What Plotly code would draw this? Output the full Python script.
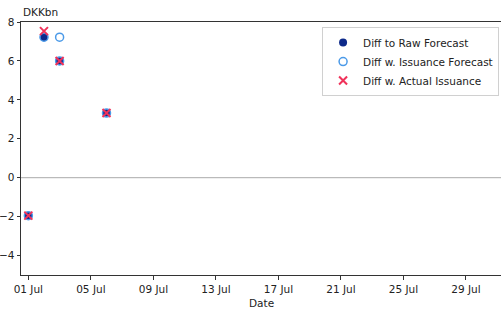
import plotly.graph_objects as go

raw_dates = ["2024-07-01", "2024-07-02", "2024-07-03", "2024-07-06"]
raw_vals = [-1.95, 7.22, 6.0, 3.32]

fc_dates = ["2024-07-01", "2024-07-02", "2024-07-03", "2024-07-03", "2024-07-06"]
fc_vals = [-1.95, 7.22, 7.22, 6.0, 3.32]

act_dates = ["2024-07-01", "2024-07-02", "2024-07-03", "2024-07-06"]
act_vals = [-1.95, 7.53, 6.0, 3.32]

tick_vals = ["2024-07-01", "2024-07-05", "2024-07-09", "2024-07-13", "2024-07-17",
             "2024-07-21", "2024-07-25", "2024-07-29"]
tick_text = ["01 Jul", "05 Jul", "09 Jul", "13 Jul", "17 Jul", "21 Jul", "25 Jul", "29 Jul"]

FONT = "DejaVu Sans"
FS = 10.5

fig = go.Figure()
fig.add_trace(go.Scatter(x=raw_dates, y=raw_vals, mode="markers", name="Diff to Raw Forecast",
                         marker=dict(symbol="circle", size=8, color="#0d2a8a",
                                     line=dict(width=0))))
fig.add_trace(go.Scatter(x=fc_dates, y=fc_vals, mode="markers", name="Diff w. Issuance Forecast",
                         marker=dict(symbol="circle-open", size=8, color="#4b9ae8",
                                     line=dict(width=1.5, color="#4b9ae8"))))
fig.add_trace(go.Scatter(x=act_dates, y=act_vals, mode="markers", name="Diff w. Actual Issuance",
                         marker=dict(symbol="x-thin", size=8, color="#f0325a",
                                     line=dict(width=2, color="#f0325a"))))

fig.add_shape(type="line", xref="paper", x0=0, x1=1, yref="y", y0=0, y1=0,
              line=dict(color="#aaaaaa", width=1), layer="below")

fig.update_layout(
    width=501, height=311,
    margin=dict(l=21, r=0, t=22, b=36, autoexpand=False),
    paper_bgcolor="white", plot_bgcolor="white",
    font=dict(family=FONT, size=FS, color="#222"),
    showlegend=True,
    legend=dict(x=0.996, y=0.98, xanchor="right", yanchor="top",
                bgcolor="rgba(255,255,255,0.8)", bordercolor="#d0d0d0", borderwidth=1,
                font=dict(family=FONT, size=10.5, color="#222"),
                itemsizing="trace", tracegroupgap=0, itemwidth=30),
    xaxis=dict(
        type="date", automargin=False,
        range=["2024-06-30 12:43", "2024-07-31 05:45"],
        tickvals=tick_vals, ticktext=tick_text,
        ticks="outside", ticklen=4, tickcolor="#333", tickwidth=1,
        showline=True, linecolor="#333", linewidth=1, mirror=True,
        showgrid=False, zeroline=False,
    ),
    yaxis=dict(
        range=[-5, 8], automargin=False,
        tickvals=[-4, -2, 0, 2, 4, 6, 8],
        ticktext=["\u22124", "\u22122", "0", "2", "4", "6", "8"],
        ticks="outside", ticklen=3.5, tickcolor="#333", tickwidth=1,
        showline=True, linecolor="#333", linewidth=1,
        showgrid=False, zeroline=False,
    ),
    annotations=[
        dict(text="DKKbn", xref="paper", yref="paper", x=0, y=1,
             xanchor="left", yanchor="bottom", yshift=2, showarrow=False,
             font=dict(family=FONT, size=FS, color="#222")),
        dict(text="Date", xref="paper", yref="paper", x=0.5, y=0,
             xanchor="center", yanchor="top", yshift=-20, showarrow=False,
             font=dict(family=FONT, size=FS, color="#222")),
    ],
)

fig.write_html("out.html", config={"displayModeBar": False},
               post_script="document.body.style.margin='0px';document.body.style.overflow='hidden';")
